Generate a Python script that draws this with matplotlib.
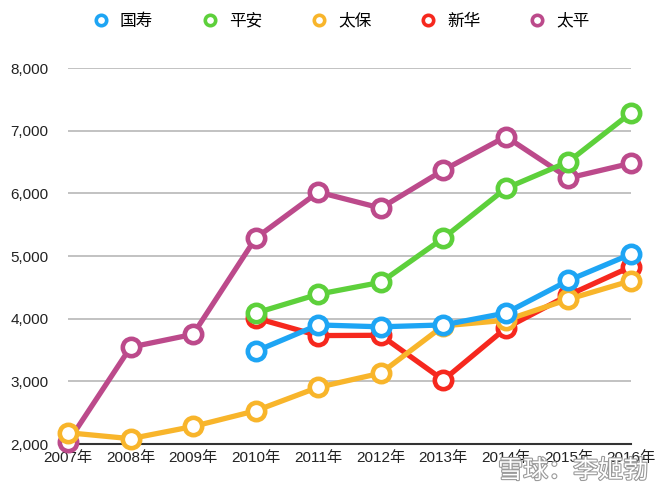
import matplotlib
matplotlib.use('Agg')
import matplotlib.pyplot as plt
import matplotlib.patheffects as pe
from matplotlib.lines import Line2D
from matplotlib.ticker import FuncFormatter

plt.rcParams['font.family'] = ['Liberation Sans', 'Noto Sans CJK SC', 'DejaVu Sans']

years = ['2007年', '2008年', '2009年', '2010年', '2011年', '2012年',
         '2013年', '2014年', '2015年', '2016年']

# None = no data for that year
guoshou = [None, None, None, 3480, 3900, 3870, 3900, 4090, 4610, 5030]
pingan = [None, None, None, 4090, 4390, 4580, 5285, 6080, 6505, 7285]
taibao = [2180, 2085, 2280, 2530, 2905, 3130, 3885, 3975, 4310, 4605]
xinhua = [None, None, None, 4010, 3730, 3735, 3020, 3850, 4375, 4830]
taiping = [2030, 3545, 3750, 5285, 6020, 5765, 6370, 6905, 6245, 6480]

names = ['国寿', '平安', '太保', '新华', '太平']
colors = ['#1EA5F4', '#5DD03B', '#F8B52B', '#F6281E', '#BC4A8B']
series = [guoshou, pingan, taibao, xinhua, taiping]
zorders = [7, 6, 5, 4, 3]

fig = plt.figure(figsize=(6.6, 4.93), dpi=100)
ax = fig.add_axes([68 / 660, 1 - 444 / 493, (631 - 68) / 660, (444 - 68) / 493])

for vals, c, z in zip(series, colors, zorders):
    xs = [i for i, v in enumerate(vals) if v is not None]
    ys = [v for v in vals if v is not None]
    ax.plot(xs, ys, color=c, lw=3.8, marker='o', markersize=12.5,
            markerfacecolor='white', markeredgecolor=c, markeredgewidth=3.3,
            zorder=z, clip_on=False, solid_capstyle='round')

ax.set_xlim(0, len(years) - 1)
ax.set_ylim(2000, 8000)
ax.set_yticks(range(2000, 8001, 1000))
ax.yaxis.set_major_formatter(FuncFormatter(lambda v, p: f'{int(v):,}'))
ax.set_xticks(range(len(years)))
ax.set_xticklabels(years)
ax.grid(axis='y', color='#BDBDBD', lw=1.3, zorder=0)
ax.set_axisbelow(True)
for s in ['top', 'right', 'left']:
    ax.spines[s].set_visible(False)
ax.spines['bottom'].set_color('#333333')
ax.spines['bottom'].set_linewidth(1.5)
ax.spines['bottom'].set_zorder(1)
ax.tick_params(axis='both', length=0, labelsize=11, colors='#222222')
ax.tick_params(axis='y', pad=14)
ax.tick_params(axis='x', pad=5)

handles = [Line2D([], [], ls='none', marker='o', markersize=7.5,
                  markerfacecolor='white', markeredgecolor=c,
                  markeredgewidth=2.6) for c in colors]
fig.legend(handles, names, loc='center', bbox_to_anchor=(340 / 660, 1 - 21 / 493),
           ncol=5, frameon=False, fontsize=12, handlelength=1.2,
           handletextpad=0.55, columnspacing=2.8)

fig.text(0.982, 1 - 471 / 493, '雪球：李姬勃', ha='right', va='center',
         fontsize=18, color='white', family=['Noto Sans CJK SC'],
         path_effects=[pe.withStroke(linewidth=1.6, foreground='#9A9A9A')],
         zorder=10)

fig.savefig('out.png', dpi=100)
